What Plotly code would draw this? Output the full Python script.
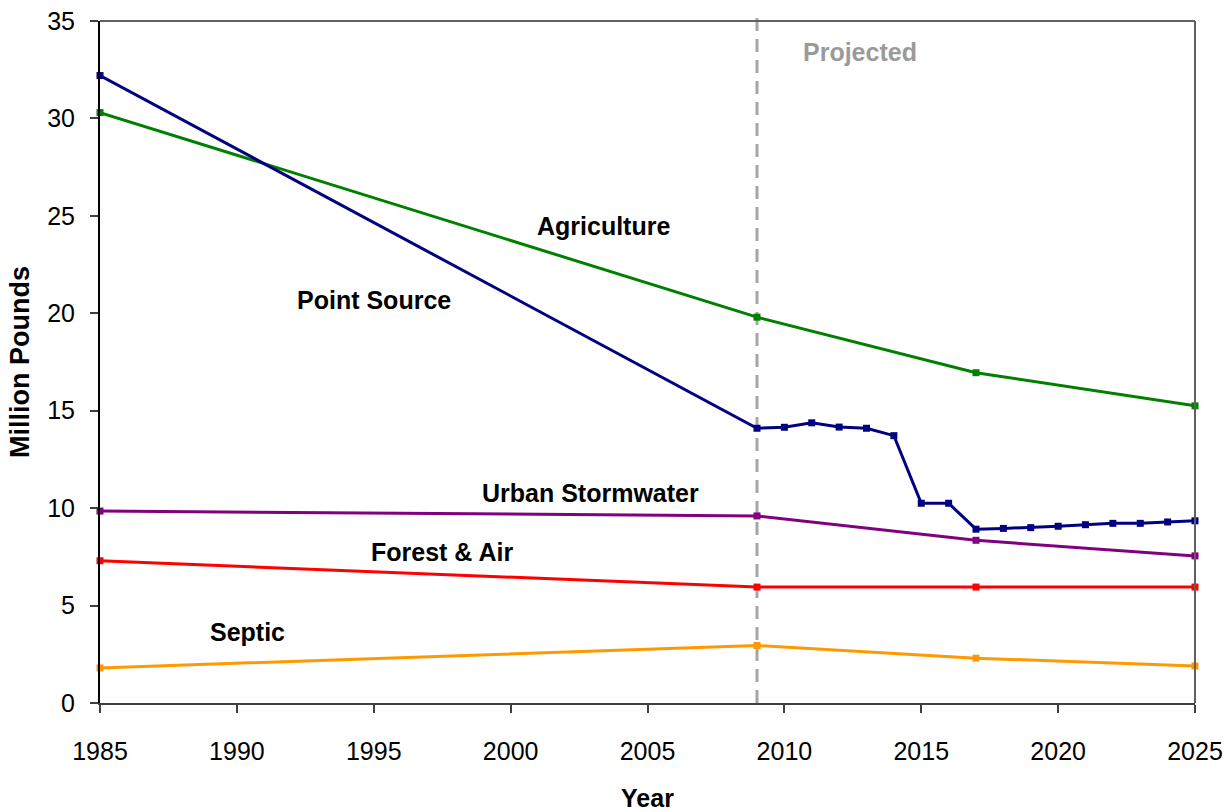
import plotly.graph_objects as go

# Phosphorus loads by source (million pounds), historical to 2009, projected after
years_main = [1985, 2009, 2017, 2025]
agriculture = [30.3, 19.8, 16.95, 15.25]
urban_stormwater = [9.85, 9.6, 8.35, 7.55]
forest_air = [7.3, 5.95, 5.95, 5.95]
septic = [1.8, 2.95, 2.3, 1.9]

years_point = [1985, 2009, 2010, 2011, 2012, 2013, 2014, 2015, 2016,
               2017, 2018, 2019, 2020, 2021, 2022, 2023, 2024, 2025]
point_source = [32.2, 14.1, 14.15, 14.38, 14.16, 14.1, 13.72, 10.25, 10.25,
                8.92, 8.96, 9.0, 9.07, 9.15, 9.22, 9.22, 9.29, 9.35]

projection_start = 2009

FONT = "Liberation Sans, Arial, sans-serif"

series = [
    ("Septic", years_main, septic, "#ff9900"),
    ("Forest & Air", years_main, forest_air, "#ff0000"),
    ("Urban Stormwater", years_main, urban_stormwater, "#800080"),
    ("Agriculture", years_main, agriculture, "#008000"),
    ("Point Source", years_point, point_source, "#000080"),
]

fig = go.Figure()
for name, xs, ys, color in series:
    fig.add_trace(go.Scatter(
        x=xs, y=ys, name=name, mode="lines+markers",
        line=dict(color=color, width=3),
        marker=dict(symbol="square", size=7, color=color),
        showlegend=False, cliponaxis=False,
    ))

# Series labels placed beside their lines
labels = [
    ("Agriculture", 2003.4, 24.5),
    ("Point Source", 1995.0, 20.7),
    ("Urban Stormwater", 2002.9, 10.8),
    ("Forest & Air", 1997.5, 7.75),
    ("Septic", 1990.4, 3.65),
]
for text, x, y in labels:
    fig.add_annotation(x=x, y=y, text=f"<b>{text}</b>", showarrow=False,
                       font=dict(family=FONT, size=25, color="black"))

fig.add_annotation(x=2012.75, y=33.4, text="<b>Projected</b>", showarrow=False,
                   font=dict(family=FONT, size=25, color="#9a9a9a"))

# Divider between historical and projected years
fig.add_shape(type="line", xref="x", yref="paper",
              x0=projection_start, x1=projection_start, y0=0, y1=1.006,
              line=dict(color="#a6a6a6", width=3, dash="13px,8px"), layer="below")

# Grey frame on top and right
fig.add_shape(type="line", xref="paper", yref="paper", x0=0, x1=1, y0=1, y1=1,
              line=dict(color="#606060", width=2))
fig.add_shape(type="line", xref="paper", yref="paper", x0=1, x1=1, y0=0, y1=1,
              line=dict(color="#606060", width=2))

fig.update_layout(
    width=1232, height=812,
    margin=dict(l=100, r=37, t=21, b=109),
    paper_bgcolor="white", plot_bgcolor="white",
    font=dict(family=FONT, color="black"),
    xaxis=dict(
        range=[1985, 2025], tickmode="linear", tick0=1985, dtick=5,
        showgrid=False, zeroline=False, automargin=False,
        showline=True, linecolor="#404040", linewidth=2,
        ticks="outside", ticklen=8, tickwidth=2, tickcolor="#404040",
        tickfont=dict(family=FONT, size=25, color="black"),
        ticklabelstandoff=17,
        title=dict(text="<b>Year</b>", font=dict(family=FONT, size=25), standoff=30),
    ),
    yaxis=dict(
        range=[0, 35], tickmode="linear", tick0=0, dtick=5,
        showgrid=False, zeroline=False, automargin=False,
        showline=True, linecolor="black", linewidth=2,
        ticks="outside", ticklen=8, tickwidth=2, tickcolor="#404040",
        tickfont=dict(family=FONT, size=25, color="black"),
        ticklabelstandoff=10,
        title=dict(text="<b>Million Pounds</b>", font=dict(family=FONT, size=27), standoff=10),
    ),
)

fig.write_html("out.html")
